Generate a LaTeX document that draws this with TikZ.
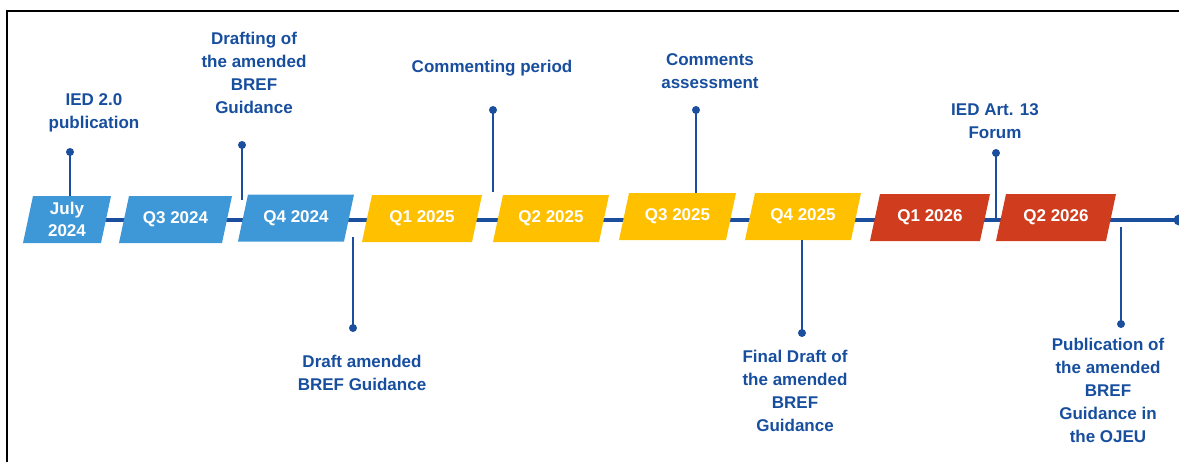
\documentclass[tikz,border=0pt]{standalone}
\usepackage{fontspec}
\setmainfont{Liberation Sans}
\definecolor{boxblue}{HTML}{3E98D8}
\definecolor{boxyellow}{HTML}{FFC000}
\definecolor{boxred}{HTML}{CF3D1E}
\definecolor{labelblue}{HTML}{174E9E}
\definecolor{lineblue}{HTML}{1B4F9E}
\begin{document}
\begin{tikzpicture}[x=1pt,y=-1pt,
  lbl/.style={text=labelblue, font=\fontsize{17pt}{23pt}\selectfont\bfseries, align=center, inner sep=0pt, anchor=north},
  qbox/.style 2 args={minimum width=#1, minimum height=47pt, inner sep=0pt, text=white,
    font=\fontsize{17pt}{22pt}\selectfont\bfseries, align=center,
    path picture={\fill[#2] ([xshift=10pt]path picture bounding box.north west) -- (path picture bounding box.north east) -- ([xshift=-10pt]path picture bounding box.south east) -- (path picture bounding box.south west) -- cycle;}},
  conn/.style={draw=lineblue, line width=2.8pt},
  dotc/.style={circle, fill=lineblue, inner sep=0pt, minimum size=8pt},
  enddot/.style={circle, fill=lineblue, inner sep=0pt, minimum size=11pt}
]
\useasboundingbox (0,0) rectangle (1179,461);
% frame
\draw[line width=2.3pt, black] (7.2,462) -- (7.2,11.2) -- (1180,11.2);
% timeline
\coordinate (tlstart) at (40,220);
\node[enddot] (tlend) at (1179,220) {};
\draw[lineblue, line width=3.8pt] (tlstart) -- (tlend.center);
% boxes
\node[qbox={88pt}{boxblue}] (july) at (67,219.5) {July\\2024};
\node[qbox={113pt}{boxblue}] (q3a) at (175.5,219.5) {Q3 2024};
\node[qbox={116pt}{boxblue}] (q4a) at (296,218) {Q4 2024};
\node[qbox={120pt}{boxyellow}] (q1b) at (422,218.5) {Q1 2025};
\node[qbox={116pt}{boxyellow}] (q2b) at (551,218.5) {Q2 2025};
\node[qbox={117pt}{boxyellow}] (q3b) at (677.5,216.5) {Q3 2025};
\node[qbox={116pt}{boxyellow}] (q4b) at (803,216.5) {Q4 2025};
\node[qbox={120pt}{boxred}] (q1c) at (930,217.5) {Q1 2026};
\node[qbox={120pt}{boxred}] (q2c) at (1056,217.5) {Q2 2026};
% labels above
\node[lbl] (l1) at (94,93) {IED 2.0\\publication};
\node[lbl] (l2) at (254,32) {Drafting of\\the amended\\BREF\\Guidance};
\node[lbl] (l3) at (492,60) {Commenting period};
\node[lbl] (l4) at (710,53) {Comments\\assessment};
\node[lbl] (l5) at (995,103) {IED Art. 13\\Forum};
% labels below
\node[lbl] (l6) at (362,355) {Draft amended\\BREF Guidance};
\node[lbl] (l7) at (795,350) {Final Draft of\\the amended\\BREF\\Guidance};
\node[lbl] (l8) at (1108,338) {Publication of\\the amended\\BREF\\Guidance in\\the OJEU};
% dots and connectors
\node[dotc] (d1) at (70,152) {};
\draw[conn] (d1.center) -- (d1.center |- july.north);
\node[dotc] (d2) at (242,145) {};
\coordinate (e2) at (242,200);
\draw[conn] (d2.center) -- (e2);
\node[dotc] (d3) at (493,110) {};
\coordinate (e3) at (493,192);
\draw[conn] (d3.center) -- (e3);
\node[dotc] (d4) at (696,110) {};
\draw[conn] (d4.center) -- (d4.center |- q3b.north);
\node[dotc] (d5) at (996,153) {};
\coordinate (e5) at (996,220);
\draw[conn] (d5.center) -- (e5);
\node[dotc] (d6) at (353,328) {};
\coordinate (e6) at (353,237);
\draw[conn] (e6) -- (d6.center);
\node[dotc] (d7) at (802,333) {};
\draw[conn] (d7.center |- q4b.south) -- (d7.center);
\node[dotc] (d8) at (1121,324) {};
\coordinate (e8) at (1121,227);
\draw[conn] (e8) -- (d8.center);
\end{tikzpicture}
\end{document}
